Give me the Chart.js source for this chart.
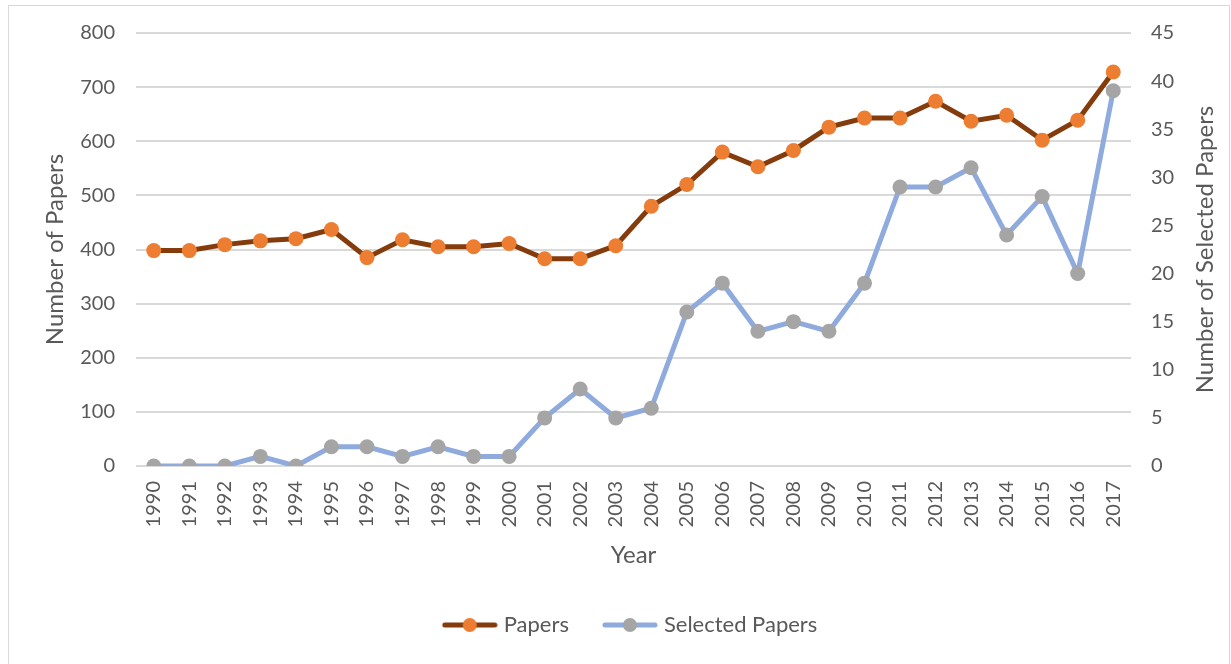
<!DOCTYPE html>
<html>
<head>
<meta charset="utf-8">
<script src="https://cdn.jsdelivr.net/npm/chart.js@4"></script>
<style>
  html, body { margin: 0; padding: 0; background: #fff; }
  #wrap { position: relative; width: 1231px; height: 664px; }
  #frame { position: absolute; left: 8px; top: 5px; width: 1222px; height: 660px; border: 1px solid #d9d9d9; box-sizing: border-box; }
  #chart { position: absolute; left: 0; top: 0; }
</style>
</head>
<body>
<div id="wrap">
  <div id="frame"></div>
  <canvas id="chart" width="1231" height="664"></canvas>
</div>
<script>
/* data */
const years = ['1990','1991','1992','1993','1994','1995','1996','1997','1998','1999',
  '2000','2001','2002','2003','2004','2005','2006','2007','2008','2009',
  '2010','2011','2012','2013','2014','2015','2016','2017'];
const papers = [398, 398, 409, 416, 420, 437, 385, 418, 405, 405,
  411, 383, 383, 407, 480, 520, 580, 553, 583, 626,
  643, 643, 674, 637, 648, 602, 639, 728];
const selectedPapers = [0, 0, 0, 1, 0, 2, 2, 1, 2, 1,
  1, 5, 8, 5, 6, 16, 19, 14, 15, 14,
  19, 29, 29, 31, 24, 28, 20, 39];
const leftTicks = [0, 100, 200, 300, 400, 500, 600, 700, 800];
const rightTicks = [0, 5, 10, 15, 20, 25, 30, 35, 40, 45];

const textColor = '#595959';
const gridColor = '#d9d9d9';
const font = 'Lato, "Open Sans", sans-serif';
const rightTitle = 'Number of Selected Papers';

// legend marker: line with a dot in the middle
function legendMark(lineColor, dotColor) {
  const c = document.createElement('canvas');
  c.width = 56; c.height = 16;
  const g = c.getContext('2d');
  g.strokeStyle = lineColor;
  g.lineWidth = 5;
  g.lineCap = 'round';
  g.beginPath(); g.moveTo(3, 8); g.lineTo(53, 8); g.stroke();
  g.fillStyle = dotColor;
  g.beginPath(); g.arc(28, 8, 7, 0, Math.PI * 2); g.fill();
  return c;
}
const marks = [legendMark('#843c0c', '#ed7d31'), legendMark('#8faadc', '#a5a5a5')];

// right axis title reads bottom-to-top, so draw it by hand
const rightTitlePlugin = {
  id: 'rightTitle',
  afterDraw(chart) {
    const s = chart.scales.y1;
    const ctx = chart.ctx;
    ctx.save();
    ctx.fillStyle = textColor;
    ctx.font = '24px ' + font;
    ctx.textAlign = 'center';
    ctx.textBaseline = 'middle';
    ctx.translate(s.right - 22, (s.top + s.bottom) / 2);
    ctx.rotate(-Math.PI / 2);
    ctx.fillText(rightTitle, 0, 0);
    ctx.restore();
  },
};

new Chart(document.getElementById('chart'), {
  type: 'line',
  data: {
    labels: years,
    datasets: [{
      label: 'Papers',
      data: papers,
      yAxisID: 'y',
      borderColor: '#843c0c',
      backgroundColor: '#ed7d31',
      pointBackgroundColor: '#ed7d31',
      pointBorderColor: '#ed7d31',
      borderWidth: 5,
      pointRadius: 7.5,
      pointBorderWidth: 0,
      tension: 0,
      order: 1,
    }, {
      label: 'Selected Papers',
      data: selectedPapers,
      yAxisID: 'y1',
      borderColor: '#8faadc',
      backgroundColor: '#a5a5a5',
      pointBackgroundColor: '#a5a5a5',
      pointBorderColor: '#a5a5a5',
      borderWidth: 5,
      pointRadius: 7.5,
      pointBorderWidth: 0,
      tension: 0,
      order: 2,
    }],
  },
  plugins: [rightTitlePlugin],
  options: {
    responsive: false,
    animation: false,
    layout: { padding: { left: 37, right: 4, top: 24, bottom: 18 } },
    plugins: {
      tooltip: { enabled: false },
      legend: {
        position: 'bottom',
        labels: {
          usePointStyle: true,
          pointStyleWidth: 46,
          padding: 38,
          color: textColor,
          font: { family: font, size: 22 },
          generateLabels(chart) {
            return chart.data.datasets.map((ds, i) => ({
              text: ds.label,
              pointStyle: marks[i],
              fontColor: textColor,
              strokeStyle: 'transparent',
              fillStyle: 'transparent',
              lineWidth: 0,
              datasetIndex: i,
              hidden: false,
            }));
          },
        },
      },
    },
    scales: {
      x: {
        offset: true,
        grid: { display: false, drawTicks: false, offset: true },
        border: { display: false },
        ticks: { color: textColor, font: { family: font, size: 20 }, minRotation: 90, maxRotation: 90, autoSkip: false, padding: 15 },
        title: { display: true, text: 'Year', color: textColor, font: { family: font, size: 24 }, padding: { top: 0, bottom: 6 } },
        afterFit(scale) { scale.height = 110; },
      },
      y: {
        position: 'left',
        min: 0, max: 800,
        afterBuildTicks(axis) { axis.ticks = leftTicks.map(v => ({ value: v })); },
        grid: { color: gridColor, lineWidth: 2, drawTicks: false },
        border: { display: false },
        ticks: { color: textColor, font: { family: font, size: 20 }, padding: 21 },
        title: { display: true, text: 'Number of Papers', color: textColor, font: { family: font, size: 24 }, padding: { top: 4, bottom: 4 } },
        afterFit(scale) { scale.width = 99; },
      },
      y1: {
        position: 'right',
        min: 0, max: 45,
        afterBuildTicks(axis) { axis.ticks = rightTicks.map(v => ({ value: v })); },
        grid: { display: false, drawTicks: false },
        border: { display: false },
        ticks: { color: textColor, font: { family: font, size: 20 }, padding: 20 },
        title: { display: false },
        afterFit(scale) { scale.width = 96; },
      },
    },
  },
});
</script>
</body>
</html>
